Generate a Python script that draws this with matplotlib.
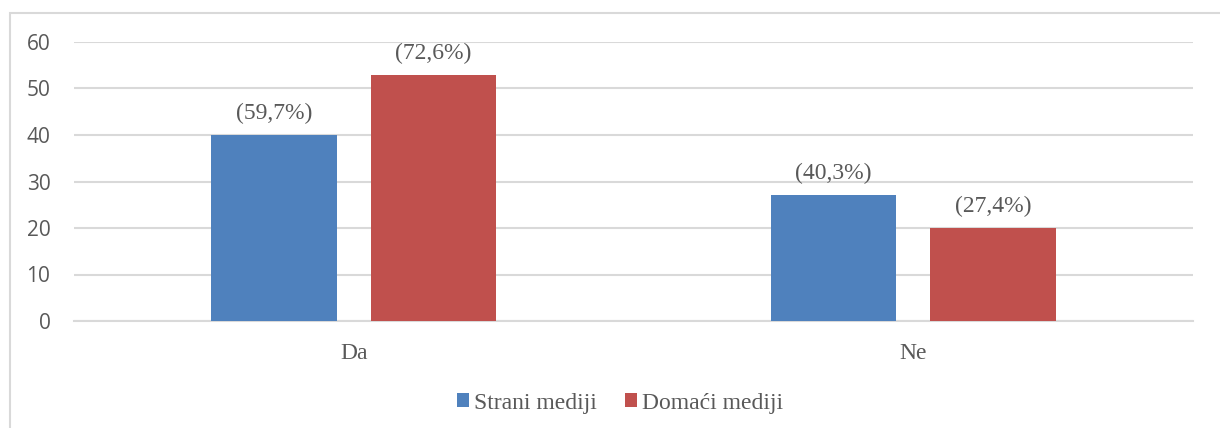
import matplotlib
matplotlib.use("Agg")
import matplotlib.pyplot as plt
from matplotlib.patches import Patch, Rectangle
import numpy as np

categories = ["Da", "Ne"]
series_names = ["Strani mediji", "Domaći mediji"]
strani = [40, 27]
domaci = [53, 20]
strani_labels = ["(59,7%)", "(40,3%)"]
domaci_labels = ["(72,6%)", "(27,4%)"]
yticks = [0, 10, 20, 30, 40, 50, 60]

colors = ["#4f81bd", "#c0504d"]
grid_c = "#d9d9d9"
text_c = "#595959"
serif = ["Liberation Serif", "DejaVu Serif"]
sans = ["Open Sans", "DejaVu Sans"]

fig = plt.figure(figsize=(12.2, 4.28), dpi=100)
fig.patches.append(Rectangle((10 / 1220, -0.1), 1.2, 1 - 13 / 428 + 0.1, transform=fig.transFigure,
                             fill=False, edgecolor=grid_c, linewidth=1.5, zorder=0))
ax = fig.add_axes([74 / 1220, 1 - 321 / 428, (1193 - 74) / 1220, (321 - 42) / 428])

x = np.arange(len(categories))
w = 0.225
off = 0.1425
b1 = ax.bar(x - off, strani, w, color=colors[0], zorder=3)
b2 = ax.bar(x + off, domaci, w, color=colors[1], zorder=3)

for bars, labels in ((b1, strani_labels), (b2, domaci_labels)):
    for rect, lab in zip(bars, labels):
        ax.annotate(lab, (rect.get_x() + rect.get_width() / 2, rect.get_height()),
                    xytext=(0, 15.5), textcoords="offset points", ha="center", va="center",
                    fontsize=17, family=serif, color=text_c)

ax.set_xlim(-0.5, 1.5)
ax.set_ylim(0, 60)
ax.set_yticks(yticks)
ax.set_yticklabels([str(t) for t in yticks], family=sans, fontsize=15, color=text_c)
ax.set_xticks(x)
ax.set_xticklabels(categories, family=serif, fontsize=17, color=text_c)
ax.tick_params(axis="y", length=0, pad=17)
ax.tick_params(axis="x", length=0, pad=16)
ax.grid(axis="y", color=grid_c, linewidth=1.5, zorder=0)
for s in ["top", "right", "left"]:
    ax.spines[s].set_visible(False)
ax.spines["bottom"].set_color(grid_c)
ax.spines["bottom"].set_linewidth(1.5)

handles = [Patch(facecolor=c, edgecolor="none") for c in colors]
fig.legend(handles, series_names, loc="center", bbox_to_anchor=(620 / 1220, 1 - 403 / 428),
           ncol=2, frameon=False, handlelength=0.5, handleheight=0.5, handletextpad=0.2,
           columnspacing=1.2, prop={"family": serif, "size": 17}, labelcolor=text_c)

fig.savefig("out.png", dpi=100)
